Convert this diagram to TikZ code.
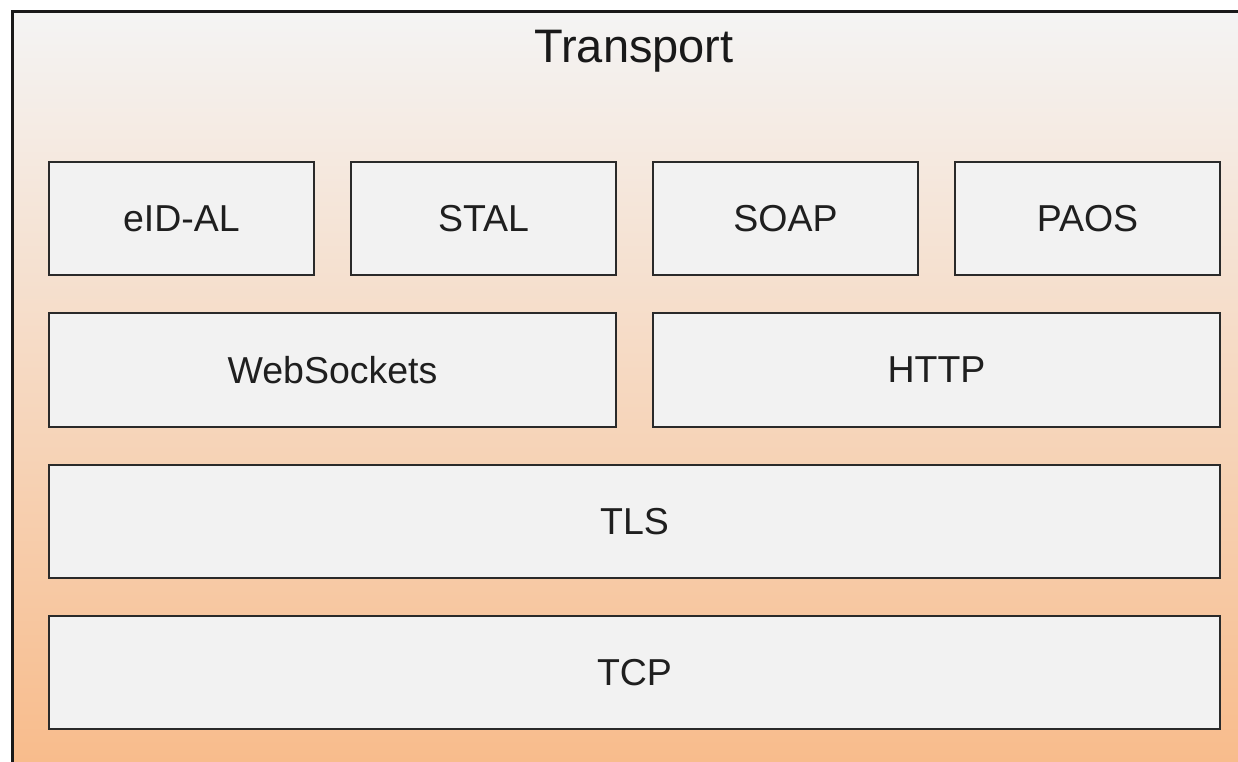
\documentclass[tikz,border=0pt]{standalone}
\usepackage{fontspec}
\setmainfont{Liberation Sans}
\definecolor{boxfill}{HTML}{F2F2F2}
\definecolor{boxline}{HTML}{2A2A2A}
\definecolor{toptone}{HTML}{F4F4F4}
\definecolor{bottomtone}{HTML}{F8BB8A}
\tikzset{
  layer/.style={draw=boxline, line width=2.6pt, fill=boxfill, rectangle,
    inner sep=0pt, font=\fontsize{37.5}{40}\selectfont, text=black!88},
}
\begin{document}
\begin{tikzpicture}[x=1pt, y=-1pt]
  \useasboundingbox (0,0) rectangle (1238,761);
  \clip (0,0) rectangle (1238,761);
  % outer container with gradient
  \shade[top color=toptone, bottom color=bottomtone, draw=black!90, line width=3pt]
    (12,11) rectangle (1250,775);
  \node[font=\fontsize{47}{50}\selectfont, text=black!90] (title) at (634,51) {Transport};
  % application layer
  \node[layer, minimum width=265pt, minimum height=113pt] (eid)  at (181.5,218.5) {eID-AL};
  \node[layer, minimum width=265pt, minimum height=113pt] (stal) at (483.5,218.5) {STAL};
  \node[layer, minimum width=265pt, minimum height=113pt] (soap) at (785.5,218.5) {SOAP};
  \node[layer, minimum width=265pt, minimum height=113pt] (paos) at (1087.5,218.5) {PAOS};
  % session layer
  \node[layer, minimum width=567pt, minimum height=114pt] (ws)   at (332.5,370) {WebSockets};
  \node[layer, minimum width=567pt, minimum height=114pt] (http) at (936.5,370) {HTTP};
  % security and transport layers
  \node[layer, minimum width=1171pt, minimum height=113pt] (tls) at (634.5,521.5) {TLS};
  \node[layer, minimum width=1171pt, minimum height=113pt] (tcp) at (634.5,672.5) {TCP};
\end{tikzpicture}
\end{document}
